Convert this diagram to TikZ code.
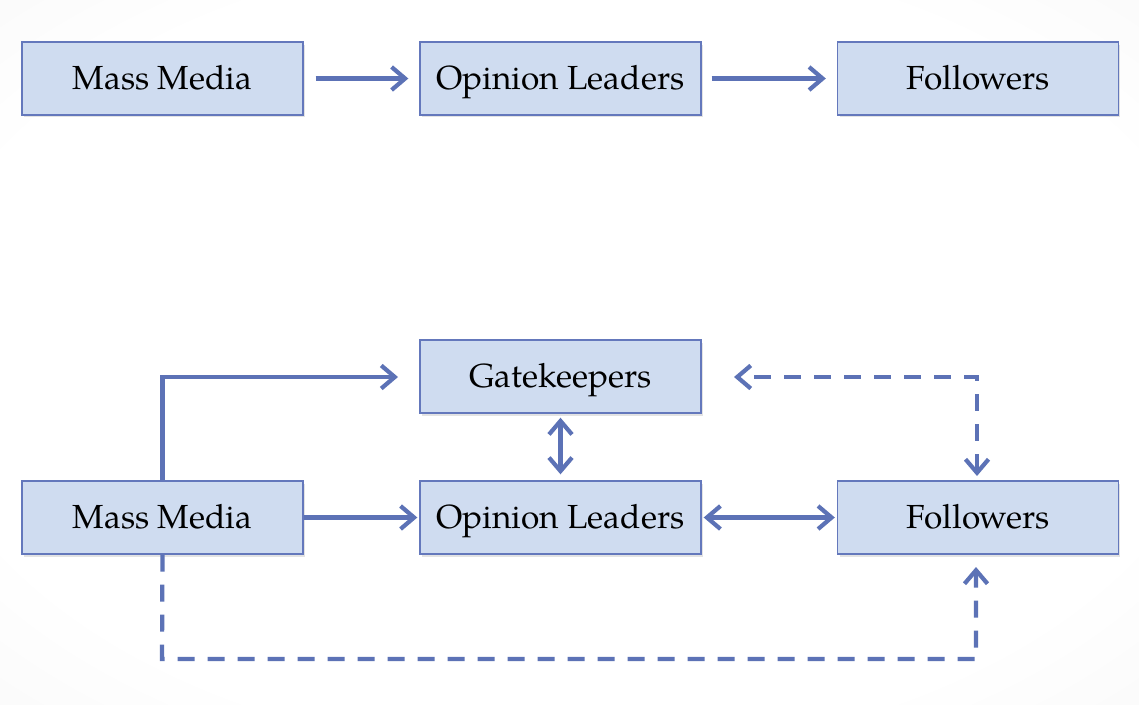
\documentclass[tikz,border=0pt]{standalone}
\usepackage{fontspec}
\setmainfont{TeX Gyre Pagella}
\usetikzlibrary{arrows.meta,shadows}
\definecolor{boxfill}{RGB}{207,220,240}
\definecolor{boxline}{RGB}{100,120,188}
\definecolor{flow}{RGB}{92,114,182}
% soft white centre fading to light grey at the corners
\pgfdeclareradialshading{vignette}{\pgfpoint{0bp}{0bp}}{%
  color(0bp)=(white); color(28bp)=(white); color(50bp)=(black!5);
  color(72bp)=(black!11)}
\begin{document}
\begin{tikzpicture}[x=0.02cm,y=-0.02cm,
  stage/.style={draw=boxline, line width=0.8pt, fill=boxfill,
    minimum width=5.62cm, minimum height=1.46cm, inner sep=0pt,
    text height=16pt, text depth=3pt,
    font=\fontsize{19}{22}\selectfont,
    drop shadow={opacity=0.22, shadow xshift=0.04cm, shadow yshift=-0.05cm}},
  link/.style={draw=flow, line width=2.4pt,
    -{Straight Barb[length=0.27cm,width=0.46cm,line width=2.4pt]}},
  twoway/.style={link, {Straight Barb[length=0.27cm,width=0.46cm,line width=2.4pt]}-{Straight Barb[length=0.27cm,width=0.46cm,line width=2.4pt]}},
  feedback/.style={dash pattern=on 0.34cm off 0.26cm}]
  % backdrop
  \shade[shading=vignette] (0,0) rectangle (1139,704);
  \useasboundingbox (0,0) rectangle (1139,704);

  % linear two-step flow
  \node[stage] (mm1) at (162.5,78.5) {Mass Media};
  \node[stage] (ol1) at (560.5,78.5) {Opinion Leaders};
  \node[stage] (fo1) at (978,78.5) {Followers};

  % extended model
  \node[stage] (gk)  at (560.5,376.5) {Gatekeepers};
  \node[stage] (mm2) at (162.5,517.5) {Mass Media};
  \node[stage] (ol2) at (560.5,517.5) {Opinion Leaders};
  \node[stage] (fo2) at (978,517.5) {Followers};

  \coordinate (gkin)  at (398,377);
  \coordinate (gkfb)  at (734,377);
  \coordinate (fotop) at (977,476);
  \coordinate (fobot) at (976,567);
  \coordinate (loop)  at (162,659);

  % top row arrows
  \draw[link] ([xshift=0.24cm]mm1.east) -- ([xshift=-0.22cm]ol1.west);
  \draw[link] ([xshift=0.2cm]ol1.east) -- ([xshift=-0.22cm]fo1.west);

  % bottom model arrows
  \draw[link] (mm2.north) -- (mm2.north |- gkin) -- (gkin);
  \draw[link] (mm2.east) -- ([xshift=-0.04cm]ol2.west);
  \draw[twoway] ([yshift=-0.08cm]gk.south) -- ([yshift=0.12cm]ol2.north);
  \draw[twoway] ([xshift=0.04cm]ol2.east) -- ([xshift=-0.04cm]fo2.west);
  \draw[twoway, feedback] (fotop) -- (fotop |- gkfb) -- (gkfb);
  \draw[link, feedback] (mm2.south) -- (loop) -- (fobot |- loop) -- (fobot);
\end{tikzpicture}
\end{document}
